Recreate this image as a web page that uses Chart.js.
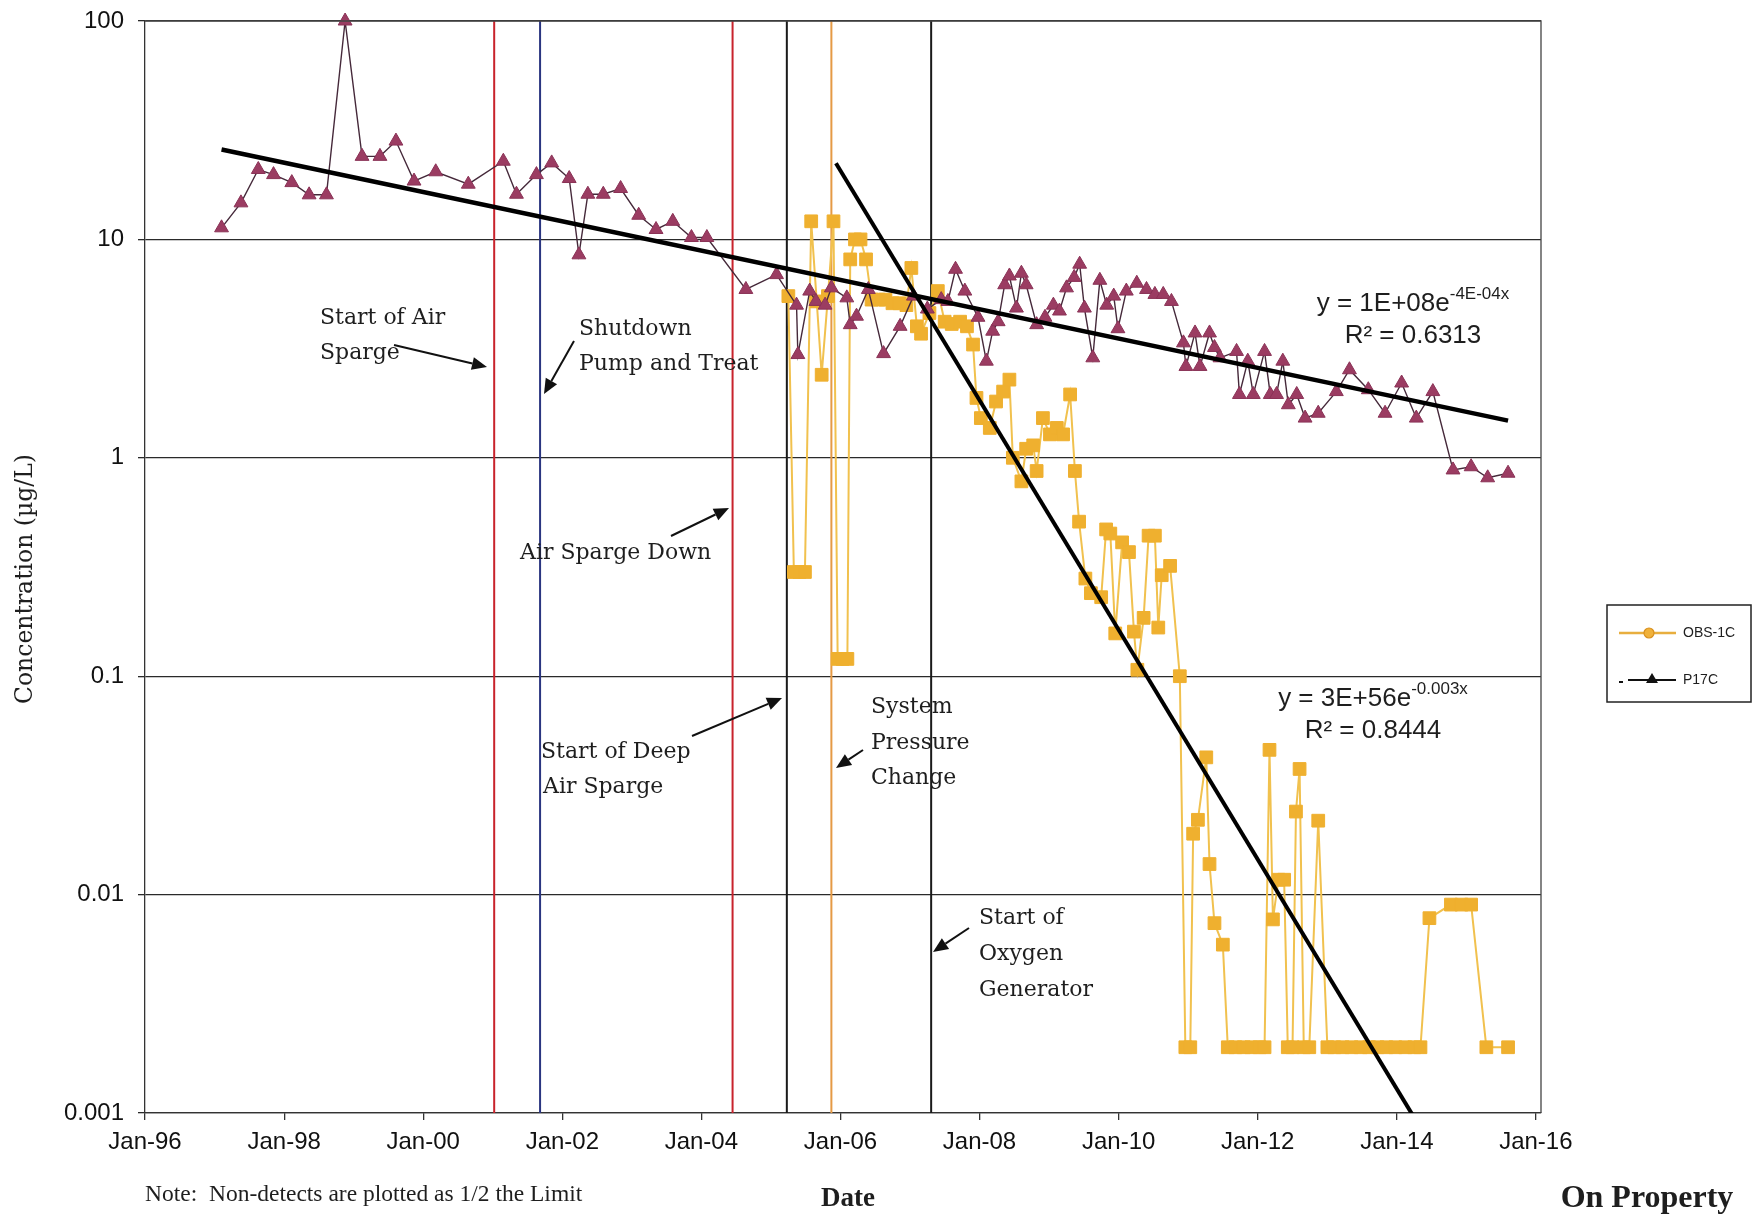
<!DOCTYPE html>
<html>
<head>
<meta charset="utf-8">
<title>OBS-1C and P17C concentrations</title>
<script src="https://cdn.jsdelivr.net/npm/chart.js@4.4.1/dist/chart.umd.min.js"></script>
<style>
  html, body { margin: 0; padding: 0; background: #ffffff; }
  #wrap { width: 1754px; height: 1215px; position: relative; }
</style>
</head>
<body>
<div id="wrap"><canvas id="chart" width="1754" height="1215"></canvas></div>
<script>
// ---- Sampling dates and concentrations (ug/L); non-detects at 1/2 the limit ----
const obsDates = [
  '2005-04-02','2005-05-01','2005-05-30','2005-06-28','2005-07-31','2005-08-29','2005-09-24','2005-10-27',
  '2005-11-25','2005-12-17','2006-01-12','2006-02-06','2006-02-21','2006-03-18','2006-04-16','2006-05-15',
  '2006-06-13','2006-07-19','2006-08-25','2006-10-01','2006-11-07','2006-12-13','2007-01-08','2007-02-06',
  '2007-02-28','2007-04-13','2007-05-27','2007-07-02','2007-08-08','2007-09-21','2007-10-27','2007-11-28',
  '2007-12-16','2008-01-08','2008-02-24','2008-03-28','2008-05-04','2008-06-06','2008-06-24','2008-08-08',
  '2008-09-02','2008-10-09','2008-10-27','2008-11-29','2009-01-05','2009-02-10','2009-03-15','2009-04-21',
  '2009-05-16','2009-06-07','2009-07-10','2009-08-08','2009-10-01','2009-10-27','2009-11-18','2009-12-14',
  '2010-01-19','2010-02-24','2010-03-22','2010-04-09','2010-05-12','2010-06-07','2010-07-10','2010-07-28',
  '2010-08-15','2010-09-28','2010-11-18','2010-12-17','2011-01-12','2011-01-27','2011-02-21','2011-04-06',
  '2011-04-23','2011-05-19','2011-07-02','2011-07-28','2011-09-06','2011-10-20','2011-11-29','2012-01-11',
  '2012-02-06','2012-03-03','2012-03-21','2012-04-19','2012-05-19','2012-06-07','2012-07-02','2012-07-20',
  '2012-08-08','2012-08-30','2012-09-28','2012-11-14','2013-01-01','2013-02-06','2013-03-22','2013-05-08',
  '2013-06-25','2013-08-08','2013-09-21','2013-11-07','2013-12-24','2014-02-14','2014-04-02','2014-05-05',
  '2014-06-21','2014-10-12','2014-12-06','2015-01-26','2015-04-16','2015-08-08'
];
const obsValues = [
  5.5, 0.30, 0.30, 0.30, 12.1, 5.2, 2.4, 5.5,
  12.1, 0.12, 0.12, 0.12, 8.1, 10.0, 10.0, 8.1,
  5.3, 5.3, 5.3, 5.1, 5.1, 5.0, 7.4, 4.0,
  3.7, 4.6, 5.8, 4.2, 4.1, 4.2, 4.0, 3.3,
  1.88, 1.52, 1.37, 1.81, 2.01, 2.28, 1.0, 0.78,
  1.1, 1.14, 0.87, 1.52, 1.28, 1.37, 1.28, 1.95,
  0.87, 0.51, 0.28, 0.24, 0.23, 0.47, 0.45, 0.157,
  0.41, 0.37, 0.16, 0.107, 0.185, 0.44, 0.44, 0.167,
  0.29, 0.32, 0.10, 0.002, 0.002, 0.019, 0.022, 0.0425,
  0.0138, 0.0074, 0.0059, 0.002, 0.002, 0.002, 0.002, 0.002,
  0.002, 0.046, 0.0077, 0.0117, 0.0117, 0.002, 0.002, 0.024,
  0.0376, 0.002, 0.002, 0.0218, 0.002, 0.002, 0.002, 0.002,
  0.002, 0.002, 0.002, 0.002, 0.002, 0.002, 0.002, 0.002,
  0.0078, 0.009, 0.009, 0.009, 0.002, 0.002
];

const p17Dates = [
  '1997-02-06','1997-05-19','1997-08-18','1997-11-06','1998-02-10','1998-05-12','1998-08-11','1998-11-17',
  '1999-02-14','1999-05-19','1999-08-11','1999-11-14','2000-03-07','2000-08-25','2001-02-25','2001-05-05',
  '2001-08-18','2001-11-06','2002-02-06','2002-03-29','2002-05-15','2002-08-04','2002-11-03','2003-02-06',
  '2003-05-08','2003-08-04','2003-11-10','2004-01-30','2004-08-22','2005-01-30','2005-05-15','2005-05-22',
  '2005-07-23','2005-08-25','2005-10-12','2005-11-14','2006-02-03','2006-02-21','2006-03-26','2006-05-27',
  '2006-08-15','2006-11-10','2007-01-19','2007-04-02','2007-06-14','2007-07-19','2007-08-28','2007-10-16',
  '2007-12-24','2008-02-06','2008-03-10','2008-04-08','2008-05-12','2008-06-06','2008-07-13','2008-08-08',
  '2008-09-02','2008-10-27','2008-12-10','2009-01-23','2009-02-24','2009-04-02','2009-05-12','2009-06-10',
  '2009-07-05','2009-08-18','2009-09-24','2009-10-30','2009-12-06','2009-12-28','2010-02-10','2010-04-06',
  '2010-05-27','2010-07-10','2010-08-23','2010-10-05','2010-12-07','2010-12-20','2011-02-06','2011-03-04',
  '2011-04-23','2011-05-19','2011-06-17','2011-09-12','2011-09-27','2011-11-10','2011-12-09','2012-02-06',
  '2012-03-07','2012-04-09','2012-05-12','2012-06-10','2012-07-24','2012-09-06','2012-11-14','2013-02-17',
  '2013-04-27','2013-08-04','2013-10-31','2014-01-26','2014-04-13','2014-07-09','2014-10-23','2015-01-26',
  '2015-04-23','2015-08-08'
];
const p17Values = [
  11.3, 14.7, 20.9, 19.8, 18.2, 16.0, 16.0, 100,
  24.0, 24.0, 28.2, 18.5, 20.4, 17.9, 22.8, 16.1,
  19.8, 22.4, 19.0, 8.5, 16.1, 16.1, 17.1, 12.9,
  11.1, 12.1, 10.2, 10.2, 5.9, 6.9, 5.0, 2.97,
  5.8, 5.2, 5.0, 6.0, 5.4, 4.07, 4.45, 5.9,
  3.0, 4.0, 5.5, 4.8, 5.3, 5.2, 7.3, 5.8,
  4.4, 2.77, 3.8, 4.2, 6.2, 6.8, 4.85, 7.0,
  6.2, 4.07, 4.4, 5.0, 4.7, 6.0, 6.7, 7.7,
  4.85, 2.87, 6.5, 5.0, 5.5, 3.9, 5.8, 6.3,
  5.9, 5.6, 5.6, 5.2, 3.36, 2.62, 3.73, 2.62,
  3.73, 3.2, 2.87, 3.07, 1.95, 2.77, 1.95, 3.07,
  1.95, 1.95, 2.77, 1.75, 1.95, 1.52, 1.60, 2.01,
  2.53, 2.05, 1.60, 2.20, 1.52, 2.01, 0.88, 0.91,
  0.81, 0.85
];

// Exponential trend lines (straight on the log axis): end dates and fitted values
const p17TrendDates = ['1997-02-06', '2015-08-08'];
const p17TrendValues = [25.8, 1.48];
const obsTrendDates = ['2005-12-08', '2015-08-08'];
const obsTrendValues = [22.3, 0.000186];

// Remediation events
const eventNames = ['Start of Air Sparge', 'Shutdown Pump and Treat', 'Air Sparge Down',
                    'Start of Deep Air Sparge', 'System Pressure Change', 'Start of Oxygen Generator'];
const eventDates = ['2001-01-08', '2001-09-06', '2004-06-13', '2005-03-25', '2005-11-14', '2007-04-22'];

// Axis ticks
const xTickYears = [1996, 1998, 2000, 2002, 2004, 2006, 2008, 2010, 2012, 2014, 2016];
const yTicks = [0.001, 0.01, 0.1, 1, 10, 100];
const yTickLabels = ['0.001', '0.01', '0.1', '1', '10', '100'];

// ---- styling ----
const eventColors = ['#c8232c', '#2a3580', '#c8232c', '#1a1a1a', '#e59a45', '#1a1a1a'];
const SERIF = '"DejaVu Serif", "Liberation Serif", serif';
const SANS = '"Liberation Sans", Arial, sans-serif';

const toMs = s => Date.parse(s + 'T00:00:00Z');
const pairs = (dates, vals) => dates.map((d, i) => ({ x: toMs(d), y: vals[i] }));

const eventSets = eventDates.map((d, i) => ({
  label: eventNames[i],
  data: [{ x: toMs(d), y: 100 }, { x: toMs(d), y: 0.001 }],
  borderColor: eventColors[i],
  borderWidth: 2,
  pointRadius: 0,
  showLine: true,
  order: 6
}));

// Free text, arrows, equations, legend and frame
const notes = {
  id: 'notes',
  afterDraw(chart) {
    const c = chart.ctx;
    const a = chart.chartArea;
    c.save();

    // frame on the right side
    c.strokeStyle = '#444';
    c.lineWidth = 1.3;
    c.beginPath();
    c.moveTo(a.left, a.top); c.lineTo(a.right, a.top); c.lineTo(a.right, a.bottom);
    c.stroke();

    // event labels
    c.fillStyle = '#1e1e1e';
    c.textBaseline = 'middle';
    c.textAlign = 'left';
    c.font = '22px ' + SERIF;
    const lines = [
      ['Start of Air', 320, 318], ['Sparge', 320, 353],
      ['Shutdown', 579, 329], ['Pump and Treat', 579, 364],
      ['Air Sparge Down', 520, 553],
      ['Start of Deep', 541, 752], ['Air Sparge', 543, 787],
      ['System', 871, 707], ['Pressure', 871, 743], ['Change', 871, 778],
      ['Start of', 979, 918], ['Oxygen', 979, 954], ['Generator', 979, 990]
    ];
    lines.forEach(([t, x, y]) => c.fillText(t, x, y));

    // arrows pointing at the event lines
    const arrow = (x1, y1, x2, y2) => {
      const ang = Math.atan2(y2 - y1, x2 - x1);
      const L = 15, W = 6.5;
      const bx = x2 - L * Math.cos(ang), by = y2 - L * Math.sin(ang);
      c.strokeStyle = '#111'; c.fillStyle = '#111'; c.lineWidth = 2;
      c.beginPath(); c.moveTo(x1, y1); c.lineTo(bx, by); c.stroke();
      c.beginPath();
      c.moveTo(x2, y2);
      c.lineTo(bx + W * Math.sin(ang), by - W * Math.cos(ang));
      c.lineTo(bx - W * Math.sin(ang), by + W * Math.cos(ang));
      c.closePath(); c.fill();
    };
    arrow(394, 345, 487, 367);
    arrow(574, 341, 544, 394);
    arrow(671, 536, 729, 508);
    arrow(692, 736, 782, 698);
    arrow(863, 750, 836, 768);
    arrow(969, 928, 933, 952);

    // trend equations
    const equation = (cx, cy, base, sup, r2) => {
      c.fillStyle = '#1e1e1e';
      c.font = '26px ' + SANS;
      const wb = c.measureText(base).width;
      c.font = '17px ' + SANS;
      const ws = c.measureText(sup).width;
      const x0 = cx - (wb + ws) / 2;
      c.textAlign = 'left';
      c.font = '26px ' + SANS;
      c.fillText(base, x0, cy);
      c.font = '17px ' + SANS;
      c.fillText(sup, x0 + wb, cy - 10);
      c.font = '26px ' + SANS;
      c.textAlign = 'center';
      c.fillText(r2, cx, cy + 32);
    };
    equation(1413, 304, 'y = 1E+08e', '-4E-04x', 'R\u00b2 = 0.6313');
    equation(1373, 699, 'y = 3E+56e', '-0.003x', 'R\u00b2 = 0.8444');

    // footer texts
    c.textAlign = 'left';
    c.font = '23.5px "Liberation Serif", serif';
    c.fillText('Note:  Non-detects are plotted as 1/2 the Limit', 145, 1195);
    c.textAlign = 'center';
    c.font = 'bold 27px "Liberation Serif", serif';
    c.fillText('Date', 848, 1199);
    c.font = 'bold 32px "Liberation Serif", serif';
    c.fillText('On Property', 1647, 1199);

    // y axis title
    c.save();
    c.translate(26, 579);
    c.rotate(-Math.PI / 2);
    c.font = '23.5px ' + SERIF;
    c.textAlign = 'center';
    c.fillText('Concentration (\u00b5g/L)', 0, 0);
    c.restore();

    // legend
    c.strokeStyle = '#222'; c.lineWidth = 1.5;
    c.strokeRect(1607, 605, 144, 97);
    c.strokeStyle = '#e8ae3e'; c.lineWidth = 2.5;
    c.beginPath(); c.moveTo(1619, 633); c.lineTo(1676, 633); c.stroke();
    c.fillStyle = '#f0b13a'; c.strokeStyle = '#d9901e'; c.lineWidth = 1.2;
    c.beginPath(); c.arc(1649, 633, 5, 0, Math.PI * 2); c.fill(); c.stroke();
    c.strokeStyle = '#111'; c.lineWidth = 2;
    c.beginPath(); c.moveTo(1628, 680); c.lineTo(1676, 680); c.stroke();
    c.beginPath(); c.moveTo(1619, 682); c.lineTo(1623, 682); c.stroke();
    c.fillStyle = '#111';
    c.beginPath(); c.moveTo(1652, 673); c.lineTo(1658, 683); c.lineTo(1646, 683); c.closePath(); c.fill();
    c.font = '14px ' + SANS;
    c.textAlign = 'left';
    c.fillStyle = '#1e1e1e';
    c.fillText('OBS-1C', 1683, 633);
    c.fillText('P17C', 1683, 680);

    c.restore();
  }
};

new Chart(document.getElementById('chart').getContext('2d'), {
  type: 'line',
  data: {
    datasets: [
      {
        label: 'OBS-1C',
        data: pairs(obsDates, obsValues),
        borderColor: '#f1c14e',
        borderWidth: 2,
        pointStyle: 'rect',
        pointRadius: 9,
        pointBackgroundColor: '#efb02f',
        pointBorderColor: '#efb02f',
        pointBorderWidth: 1,
        clip: false,
        order: 4
      },
      {
        label: 'P17C',
        data: pairs(p17Dates, p17Values),
        borderColor: '#45293a',
        borderWidth: 1.4,
        pointStyle: 'triangle',
        pointRadius: 8,
        pointBackgroundColor: '#9b3c62',
        pointBorderColor: '#8a3256',
        pointBorderWidth: 1,
        clip: false,
        order: 3
      },
      {
        label: 'P17C trend',
        data: pairs(p17TrendDates, p17TrendValues),
        borderColor: '#000',
        borderWidth: 4.5,
        pointRadius: 0,
        order: 1
      },
      {
        label: 'OBS-1C trend',
        data: pairs(obsTrendDates, obsTrendValues),
        borderColor: '#000',
        borderWidth: 4,
        pointRadius: 0,
        clip: 0,
        order: 1
      },
      ...eventSets
    ]
  },
  options: {
    responsive: false,
    animation: false,
    devicePixelRatio: 1,
    layout: { padding: { left: 0, right: 213, top: 21, bottom: 0 } },
    plugins: { legend: { display: false }, tooltip: { enabled: false } },
    scales: {
      x: {
        type: 'linear',
        min: toMs('1996-01-01'),
        max: toMs('2016-01-28'),
        afterBuildTicks: s => { s.ticks = xTickYears.map(y => ({ value: Date.UTC(y, 0, 1) })); },
        afterFit: s => { s.height = 102; s.paddingLeft = 0; s.paddingRight = 0; },
        ticks: {
          autoSkip: false,
          maxRotation: 0,
          padding: 8,
          color: '#111',
          font: { family: SANS, size: 24 },
          callback: v => 'Jan-' + String(new Date(v).getUTCFullYear()).slice(2)
        },
        grid: { drawOnChartArea: false, drawTicks: true, tickLength: 7, color: '#333', lineWidth: 1.3 },
        border: { color: '#333', width: 1.3 }
      },
      y: {
        type: 'logarithmic',
        min: 0.001,
        max: 100,
        afterBuildTicks: s => { s.ticks = yTicks.map(v => ({ value: v })); },
        afterFit: s => { s.width = 145; s.paddingTop = 0; s.paddingBottom = 0; },
        ticks: {
          autoSkip: false,
          padding: 14,
          color: '#111',
          font: { family: SANS, size: 24 },
          callback: v => yTickLabels[yTicks.indexOf(v)]
        },
        grid: { color: '#2a2a2a', lineWidth: 1.3, tickLength: 7 },
        border: { color: '#333', width: 1.3 }
      }
    }
  },
  plugins: [notes]
});
</script>
</body>
</html>
